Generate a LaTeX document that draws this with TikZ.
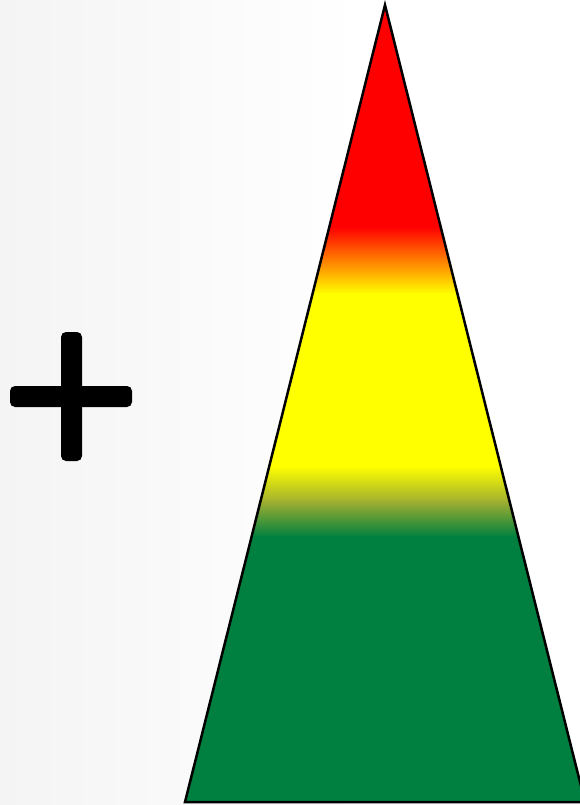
\documentclass[tikz,border=0pt]{standalone}
\definecolor{tgreen}{RGB}{0,128,64}
\definecolor{tyellow}{RGB}{255,255,0}
\definecolor{tred}{RGB}{255,0,0}
\definecolor{tolive}{RGB}{160,175,48}
\definecolor{bggray}{RGB}{244,244,244}
\begin{document}
\begin{tikzpicture}[x=1pt,y=-1pt,
  plusbar/.style={fill=black,rounded corners=5pt}]
\useasboundingbox (0,0) rectangle (579,805);
% background
\shade[left color=bggray,right color=white,shading angle=90] (0,0) rectangle (360,805);
\fill[white] (360,0) rectangle (579,805);
% plus sign
\fill[plusbar] (61,332) rectangle (82,461);
\fill[plusbar] (10,386) rectangle (132,407);
% triangle fill
\coordinate (apex) at (385,5);
\coordinate (bl) at (185,802);
\coordinate (br) at (585,802);
\begin{scope}
\clip (apex) -- (bl) -- (br) -- cycle;
\fill[tred] (150,0) rectangle (600,228);
\shade[top color=tred,bottom color=tyellow] (150,227) rectangle (600,294);
\fill[tyellow] (150,293) rectangle (600,467);
\shade[top color=tyellow,bottom color=tolive] (150,466) rectangle (600,502);
\shade[top color=tolive,bottom color=tgreen] (150,501) rectangle (600,537);
\fill[tgreen] (150,536) rectangle (600,805);
\end{scope}
\draw[line width=2.5pt,line join=miter] (apex) -- (bl) -- (br) -- cycle;
\end{tikzpicture}
\end{document}
